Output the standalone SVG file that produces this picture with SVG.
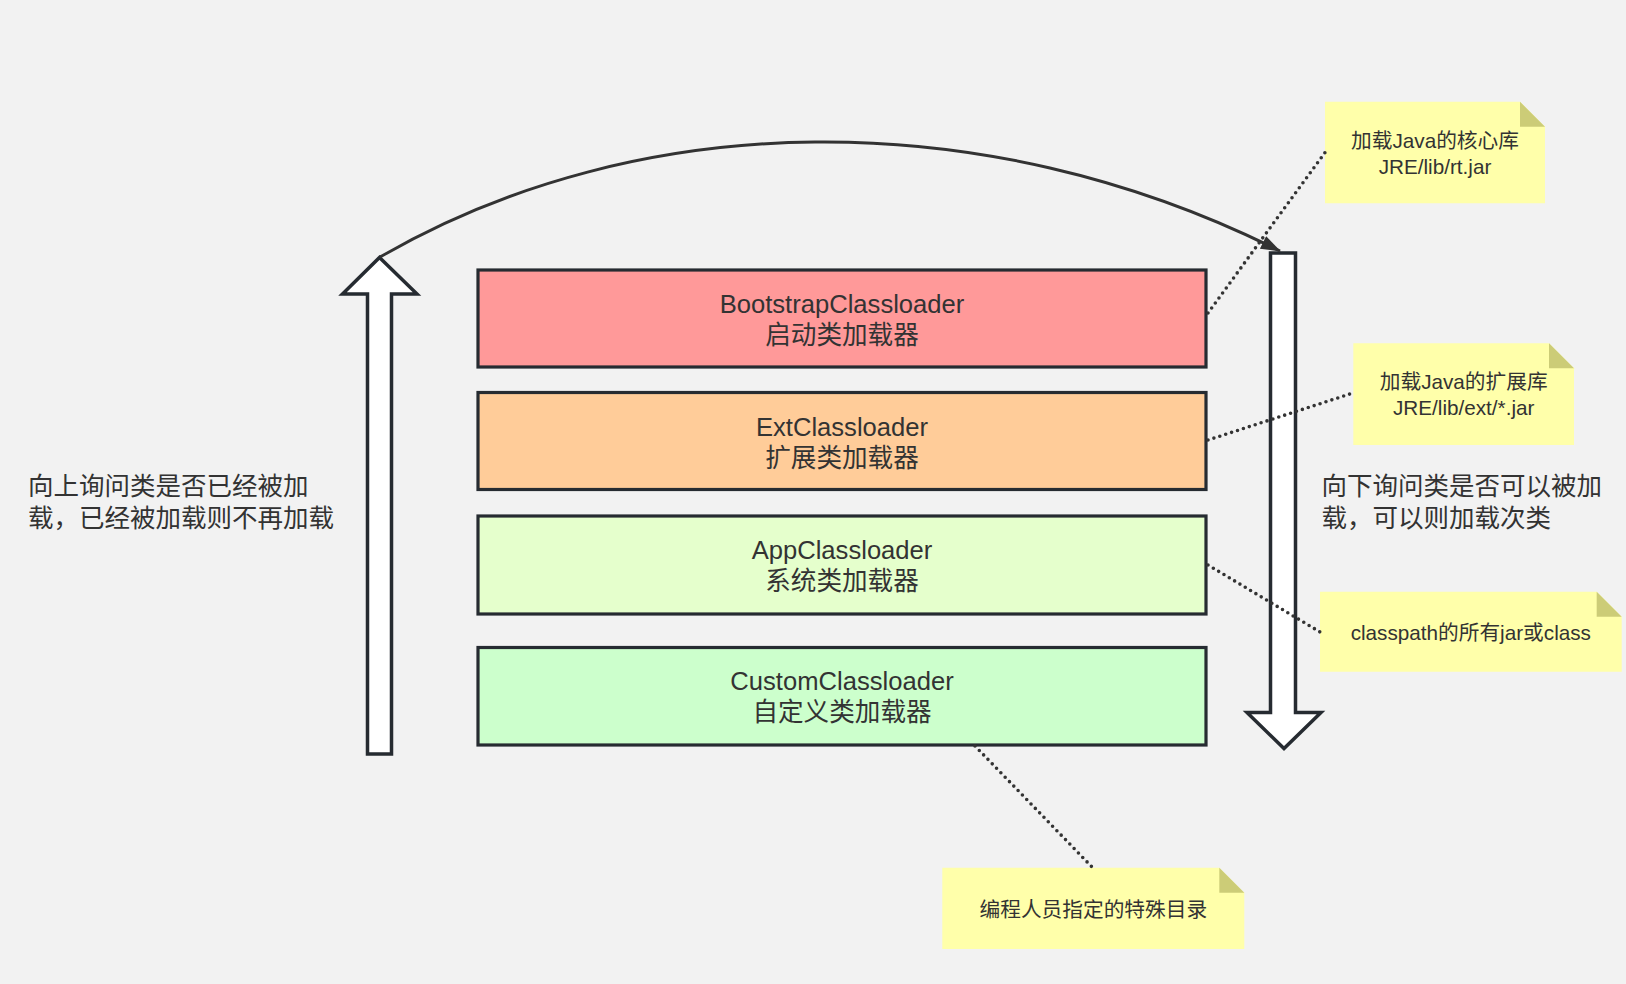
<svg xmlns="http://www.w3.org/2000/svg" width="1626" height="984" viewBox="0 0 1626 984">
<defs>
<style>
.t{font-family:"Liberation Sans","Noto Sans CJK SC",sans-serif;fill:#333333;}
.bt{font-size:25.6px;text-anchor:middle;}
.st{font-size:25.5px;}
.nt{font-size:20.7px;text-anchor:middle;}
.box{stroke:#262b31;stroke-width:3.2;}
.big{fill:#ffffff;stroke:#262b31;stroke-width:3.5;stroke-linejoin:miter;}
.note{fill:#ffffaa;}
.fold{fill:#cccc77;}
.dot{fill:none;stroke:#333333;stroke-width:3.6;stroke-linecap:round;stroke-dasharray:0 6.2;}
.arc{fill:none;stroke:#333333;stroke-width:3;}
</style>
<marker id="ah" viewBox="0 0 20 14" refX="19" refY="7" markerWidth="20" markerHeight="14" markerUnits="userSpaceOnUse" orient="auto">
<path d="M0,0 L20,7 L0,14 Z" fill="#333333"/>
</marker>
</defs>
<rect width="1626" height="984" fill="#f2f2f2"/>

<g id="up-arrow">
<polygon class="big" points="379.5,257.5 417,294 391.5,294 391.5,754 367.5,754 367.5,294 342.5,294"/>
</g>
<g id="down-arrow">
<polygon class="big" points="1270.5,253 1295.5,253 1295.5,712.5 1321,712.5 1284,748.5 1247,712.5 1270.5,712.5"/>
</g>

<g id="bootstrap">
<rect class="box" x="478" y="270" width="728" height="97" fill="#ff9999"/>
<text class="t bt" x="842" y="313">BootstrapClassloader</text>
<text class="t bt" x="842" y="344">启动类加载器</text>
</g>
<g id="ext">
<rect class="box" x="478" y="392.5" width="728" height="97" fill="#ffcc99"/>
<text class="t bt" x="842" y="435.5">ExtClassloader</text>
<text class="t bt" x="842" y="466.5">扩展类加载器</text>
</g>
<g id="app">
<rect class="box" x="478" y="516" width="728" height="98" fill="#e5ffcc"/>
<text class="t bt" x="842" y="559">AppClassloader</text>
<text class="t bt" x="842" y="590">系统类加载器</text>
</g>
<g id="custom">
<rect class="box" x="478" y="647.5" width="728" height="97.5" fill="#ccffcc"/>
<text class="t bt" x="842" y="690">CustomClassloader</text>
<text class="t bt" x="842" y="721">自定义类加载器</text>
</g>

<g id="label-up">
<text class="t st" x="28" y="495">向上询问类是否已经被加</text>
<text class="t st" x="28" y="527">载，已经被加载则不再加载</text>
</g>
<g id="label-down">
<text class="t st" x="1321.5" y="495">向下询问类是否可以被加</text>
<text class="t st" x="1321.5" y="527">载，可以则加载次类</text>
</g>

<g id="note-core">
<polygon class="note" points="1325,101.7 1520,101.7 1545,126.7 1545,203.3 1325,203.3"/>
<polygon class="fold" points="1520,101.7 1545,126.7 1520,126.7"/>
<text class="t nt" x="1435" y="147.5">加载Java的核心库</text>
<text class="t nt" x="1435" y="173.5">JRE/lib/rt.jar</text>
</g>
<g id="note-ext">
<polygon class="note" points="1353.3,343.3 1549,343.3 1574,368.3 1574,445 1353.3,445"/>
<polygon class="fold" points="1549,343.3 1574,368.3 1549,368.3"/>
<text class="t nt" x="1463.7" y="389">加载Java的扩展库</text>
<text class="t nt" x="1463.7" y="415">JRE/lib/ext/*.jar</text>
</g>
<g id="note-app">
<polygon class="note" points="1320,591.7 1596.7,591.7 1621.7,616.7 1621.7,671.7 1320,671.7"/>
<polygon class="fold" points="1596.7,591.7 1621.7,616.7 1596.7,616.7"/>
<text class="t nt" x="1470.8" y="640">classpath的所有jar或class</text>
</g>
<g id="note-custom">
<polygon class="note" points="942.3,867.7 1219.3,867.7 1244.3,892.7 1244.3,949 942.3,949"/>
<polygon class="fold" points="1219.3,867.7 1244.3,892.7 1219.3,892.7"/>
<text class="t nt" x="1093.3" y="916.5">编程人员指定的特殊目录</text>
</g>

<g id="connectors">
<path class="arc" d="M380,257 C638,107.7 982,101.7 1280,251" marker-end="url(#ah)"/>
<line class="dot" x1="1208" y1="313" x2="1325" y2="152.5"/>
<line class="dot" x1="1208" y1="440" x2="1353" y2="393"/>
<line class="dot" x1="1208" y1="565" x2="1320" y2="632"/>
<line class="dot" x1="975" y1="746" x2="1092" y2="867"/>
</g>
</svg>
